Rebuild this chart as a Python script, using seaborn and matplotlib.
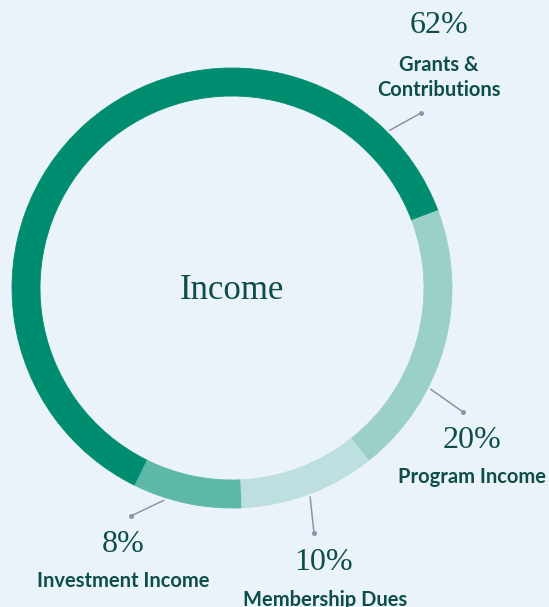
import numpy as np
import matplotlib
matplotlib.use("Agg")
import matplotlib.pyplot as plt
import seaborn as sns

# ===================== 数据 =====================
categories = ["Grants &\nContributions", "Investment Income", "Membership Dues", "Program Income"]
shares = [62, 8, 10, 20]
pct_labels = ["62%", "8%", "10%", "20%"]
colors = ["#008d6f", "#5db8a7", "#bddfdf", "#9ad0c7"]
center_title = "Income"

# ===================== 布局（像素坐标，y 向下） =====================
W, H = 549, 607
cx, cy, R, ring = 232, 288, 220, 28
# 引线：环上角度（度）、圆点位置
leader_angle = [45, -107.8, -69.5, -27]
leader_end = [(421, 113), (131, 516), (314, 533), (463, 412)]
# 文字基线
pct_pos = [(439, 33), (123.5, 552), (323.5, 570), (472, 448)]
name_pos = [(439, 96), (123, 587), (325, 606), (472, 483)]

bg = "#eaf3fa"
text_c = "#0e4e4a"
line_c = "#8d93a8"

sns.set_theme(style="white")
plt.rcParams["font.family"] = ["Lato", "DejaVu Sans"]

fig = plt.figure(figsize=(W / 100, H / 100), dpi=100, facecolor=bg)
ax = fig.add_axes([0, 0, 1, 1])
ax.set_facecolor(bg)

ax.pie(shares, colors=colors, startangle=20.6, counterclock=True,
       radius=R, center=(cx, H - cy),
       wedgeprops=dict(width=ring, linewidth=0.6, antialiased=True))
for w in ax.patches:
    w.set_edgecolor(w.get_facecolor())

ax.set_xlim(0, W)
ax.set_ylim(0, H)
ax.set_aspect("equal")
ax.axis("off")

ax.text(cx, H - 299, center_title, ha="center", va="baseline",
        fontsize=25, color=text_c, family=["Liberation Serif", "DejaVu Serif"])

for i in range(len(categories)):
    a = np.deg2rad(leader_angle[i])
    x0 = cx + (R + 3) * np.cos(a)
    y0 = (H - cy) + (R + 3) * np.sin(a)
    ex, ey = leader_end[i]
    ax.plot([x0, ex], [y0, H - ey], color=line_c, lw=1.1, solid_capstyle="round")
    ax.plot([ex], [H - ey], "o", color=line_c, ms=3.6, mec="none")

    px, py = pct_pos[i]
    ax.text(px, H - py, pct_labels[i], ha="center", va="baseline", fontsize=23,
            color=text_c, family=["Liberation Serif", "DejaVu Serif"])
    nx, ny = name_pos[i]
    ax.text(nx, H - ny, categories[i], ha="center", va="baseline", fontsize=14.5,
            fontweight="bold", color=text_c, linespacing=1.3,
            family=["Lato", "DejaVu Sans"])

fig.savefig("out.png", dpi=100, facecolor=bg)
